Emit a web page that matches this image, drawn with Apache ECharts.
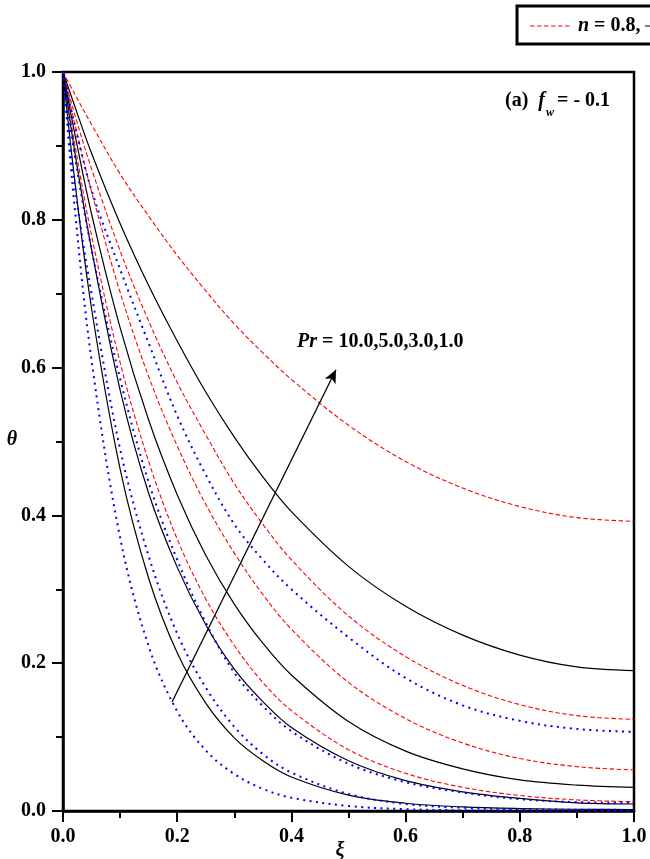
<!DOCTYPE html>
<html>
<head>
<meta charset="utf-8">
<script src="https://cdn.jsdelivr.net/npm/echarts@6/dist/echarts.min.js"></script>
<style>html,body{margin:0;padding:0;background:#fff}#c{width:650px;height:859px}</style>
</head>
<body>
<div id="c"></div>
<script>
// ---- data ----
const xi = [0, 0.02, 0.05, 0.1, 0.15, 0.2, 0.25, 0.3, 0.35, 0.4, 0.5, 0.6, 0.7, 0.8, 0.9, 1.0];
const prLabels = ['1.0', '3.0', '5.0', '10.0'];
const xTicks = ['0.0', '0.2', '0.4', '0.6', '0.8', '1.0'];
const yTicks = ['0.0', '0.2', '0.4', '0.6', '0.8', '1.0'];

// n = 0.8 (red dashed), Pr = 1, 3, 5, 10
const red_Pr1  = [1, 0.971, 0.929, 0.862, 0.805, 0.752, 0.704, 0.659, 0.620, 0.584, 0.522, 0.473, 0.437, 0.412, 0.397, 0.392];
const red_Pr3  = [1, 0.944, 0.869, 0.758, 0.663, 0.580, 0.509, 0.443, 0.388, 0.340, 0.264, 0.209, 0.170, 0.144, 0.129, 0.124];
const red_Pr5  = [1, 0.932, 0.838, 0.702, 0.588, 0.494, 0.415, 0.349, 0.293, 0.246, 0.174, 0.125, 0.092, 0.071, 0.060, 0.0555];
const red_Pr10 = [1, 0.905, 0.779, 0.607, 0.473, 0.368, 0.287, 0.224, 0.174, 0.136, 0.083, 0.051, 0.032, 0.021, 0.015, 0.0126];
// n = 1.0 (black solid)
const blk_Pr1  = [1, 0.955, 0.890, 0.795, 0.711, 0.636, 0.567, 0.506, 0.452, 0.405, 0.331, 0.277, 0.238, 0.211, 0.195, 0.190];
const blk_Pr3  = [1, 0.919, 0.808, 0.654, 0.529, 0.428, 0.346, 0.280, 0.227, 0.184, 0.121, 0.081, 0.057, 0.042, 0.035, 0.032];
const blk_Pr5  = [1, 0.895, 0.760, 0.570, 0.430, 0.330, 0.252, 0.192, 0.148, 0.113, 0.068, 0.041, 0.026, 0.017, 0.011, 0.0095];
const blk_Pr10 = [1, 0.857, 0.680, 0.463, 0.315, 0.214, 0.146, 0.099, 0.068, 0.046, 0.0215, 0.0105, 0.0055, 0.0033, 0.0024, 0.002];
// n = 1.2 (blue dotted)
const blu_Pr1  = [1, 0.930, 0.840, 0.733, 0.633, 0.535, 0.455, 0.388, 0.340, 0.300, 0.235, 0.180, 0.143, 0.122, 0.111, 0.107];
const blu_Pr3  = [1, 0.890, 0.760, 0.585, 0.445, 0.340, 0.255, 0.187, 0.142, 0.108, 0.064, 0.039, 0.025, 0.016, 0.012, 0.011];
const blu_Pr5  = [1, 0.850, 0.700, 0.490, 0.345, 0.240, 0.167, 0.114, 0.077, 0.052, 0.023, 0.0095, 0.0045, 0.0025, 0.0017, 0.0015];
const blu_Pr10 = [1, 0.820, 0.610, 0.370, 0.223, 0.135, 0.082, 0.050, 0.030, 0.018, 0.0068, 0.0025, 0.001, 0.0005, 0.0003, 0.0003];

// arrow (data coordinates)
const arrowStart = [0.191, 0.1475];
const arrowEnd = [0.478, 0.597];

const FONT = '"Liberation Serif", "Times New Roman", serif';
const groups = [
  { name: 'n = 0.8', color: '#ff0000', type: [4.5, 2.5], width: 1.1, sets: [red_Pr1, red_Pr3, red_Pr5, red_Pr10] },
  { name: 'n = 1.0', color: '#000000', type: 'solid', width: 1.2, sets: [blk_Pr1, blk_Pr3, blk_Pr5, blk_Pr10] },
  { name: 'n = 1.2', color: '#0000ff', type: [2, 4.5], width: 2, sets: [blu_Pr1, blu_Pr3, blu_Pr5, blu_Pr10] }
];

const series = [];
groups.forEach(g => {
  g.sets.forEach((vals, i) => {
    series.push({
      name: g.name + ', Pr = ' + prLabels[i],
      type: 'line',
      data: xi.map((x, k) => [x, vals[k]]),
      smooth: 0.35,
      showSymbol: false,
      symbol: 'none',
      silent: true,
      lineStyle: { color: g.color, width: g.width, type: g.type, cap: 'butt' },
      z: 2
    });
  });
});
series[0].markLine = {
  silent: true,
  symbol: ['none', 'arrow'],
  symbolSize: [9, 13],
  label: { show: false },
  lineStyle: { color: '#000', width: 1.3, type: 'solid' },
  data: [[{ coord: arrowStart }, { coord: arrowEnd }]]
};

const chart = echarts.init(document.getElementById('c'), null, { renderer: 'canvas' });
const axisLabelStyle = { color: '#000', fontFamily: FONT, fontWeight: 'bold', fontSize: 20 };
chart.setOption({
  animation: false,
  backgroundColor: '#fff',
  grid: { left: 63, right: 16, top: 72, bottom: 48, show: true, borderColor: '#000', borderWidth: 2.5, backgroundColor: 'transparent' },
  xAxis: {
    type: 'value', min: 0, max: 1, interval: 0.2,
    axisLine: { show: true, onZero: false, lineStyle: { color: '#000', width: 2.5 } },
    axisTick: { show: true, inside: false, length: 11, lineStyle: { color: '#000', width: 2 } },
    minorTick: { show: true, splitNumber: 2, length: 7, lineStyle: { color: '#000', width: 2 } },
    splitLine: { show: false },
    axisLabel: Object.assign({ margin: 16, formatter: (v) => xTicks[Math.round(v * 5)] }, axisLabelStyle)
  },
  yAxis: {
    type: 'value', min: 0, max: 1, interval: 0.2,
    axisLine: { show: true, onZero: false, lineStyle: { color: '#000', width: 2.5 } },
    axisTick: { show: true, inside: false, length: 11, lineStyle: { color: '#000', width: 2 } },
    minorTick: { show: true, splitNumber: 2, length: 7, lineStyle: { color: '#000', width: 2 } },
    splitLine: { show: false },
    axisLabel: Object.assign({ margin: 17, formatter: (v) => yTicks[Math.round(v * 5)] }, axisLabelStyle)
  },
  series: series,
  graphic: [
    // legend box (cut by the right page edge, as in the reference)
    { type: 'rect', shape: { x: 517, y: 6, width: 420, height: 38 }, style: { fill: '#fff', stroke: '#000', lineWidth: 3 }, z: 10 },
    { type: 'line', shape: { x1: 530, y1: 26, x2: 572, y2: 26 }, style: { stroke: '#ff0000', lineWidth: 1, lineDash: [4.5, 2.5] }, z: 11 },
    { type: 'text', x: 578, y: 26, z: 11, style: { text: '{i|n} = 0.8,', verticalAlign: 'middle', font: 'bold 20px ' + FONT, fill: '#000',
        rich: { i: { fontStyle: 'italic', fontWeight: 'bold', fontSize: 20, fontFamily: FONT } } } },
    { type: 'line', shape: { x1: 645, y1: 26, x2: 687, y2: 26 }, style: { stroke: '#000', lineWidth: 1.2 }, z: 11 },
    { type: 'text', x: 693, y: 26, z: 11, style: { text: 'n = 1.0,', verticalAlign: 'middle', font: 'bold 20px ' + FONT, fill: '#000' } },
    // panel annotation
    { type: 'text', x: 505, y: 101, z: 11, style: { text: '(a)  {i|f}', verticalAlign: 'middle', font: 'bold 20px ' + FONT, fill: '#000',
        rich: { i: { fontStyle: 'italic', fontWeight: 'bold', fontSize: 20, fontFamily: FONT } } } },
    { type: 'text', x: 546, y: 113, z: 11, style: { text: 'w', verticalAlign: 'middle', font: 'italic bold 12px ' + FONT, fill: '#000' } },
    { type: 'text', x: 557, y: 101, z: 11, style: { text: '= - 0.1', verticalAlign: 'middle', font: 'bold 20px ' + FONT, fill: '#000' } },
    // Pr annotation
    { type: 'text', x: 297, y: 342, z: 11, style: { text: '{i|Pr} = 10.0,5.0,3.0,1.0', verticalAlign: 'middle', font: 'bold 20px ' + FONT, fill: '#000',
        rich: { i: { fontStyle: 'italic', fontWeight: 'bold', fontSize: 20, fontFamily: FONT } } } },
    // axis titles
    { type: 'text', x: 12, y: 440, z: 11, style: { text: 'θ', align: 'center', verticalAlign: 'middle', font: 'italic bold 20px ' + FONT, fill: '#000' } },
    { type: 'text', x: 340, y: 851, z: 11, style: { text: 'ξ', align: 'center', verticalAlign: 'middle', font: 'italic bold 20px ' + FONT, fill: '#000' } }
  ]
});
</script>
</body>
</html>
